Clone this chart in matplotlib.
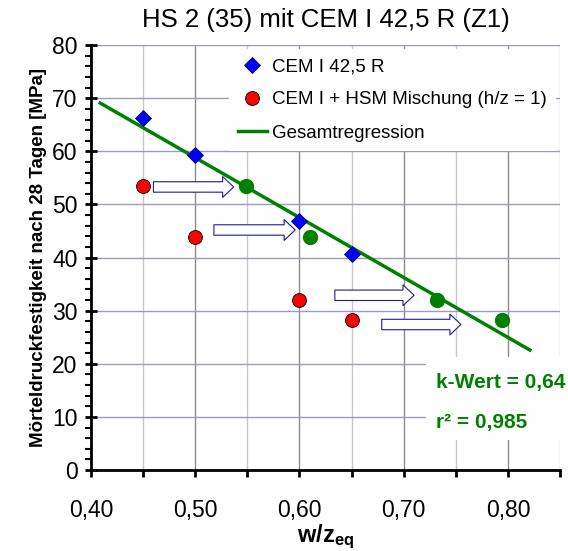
import matplotlib
matplotlib.use("Agg")
import matplotlib.pyplot as plt
from matplotlib.patches import FancyArrowPatch, Rectangle
from matplotlib.ticker import MultipleLocator, FuncFormatter

plt.rcParams['font.family'] = ['Liberation Sans', 'DejaVu Sans']
plt.rcParams['mathtext.fontset'] = 'custom'
plt.rcParams['mathtext.bf'] = 'Liberation Sans:bold'
plt.rcParams['mathtext.rm'] = 'Liberation Sans'

# data
wz_cem = [0.45, 0.50, 0.60, 0.65]
fc_cem = [66.3, 59.4, 46.9, 40.6]

wz_hsm = [0.45, 0.50, 0.60, 0.65]
fc_hsm = [53.5, 43.9, 32.1, 28.2]

wz_eq = [0.549, 0.610, 0.732, 0.794]
fc_eq = fc_hsm

reg_x = [0.409, 0.821]
reg_y = [69.1, 22.6]

# arrows: start x, end x, y
arr_x0 = [0.460, 0.518, 0.634, 0.679]
arr_x1 = [0.537, 0.596, 0.710, 0.755]
arr_y = [53.3, 45.2, 32.9, 27.4]

fig = plt.figure(figsize=(5.68, 5.51), dpi=100)
ax = fig.add_axes([0.160, 0.147, 0.826, 0.771])

ax.set_xlim(0.40, 0.85)
ax.set_ylim(0, 80)

# grid
for x in [0.45, 0.55, 0.65, 0.75, 0.85]:
    ax.axvline(x, color='#c8c8c8', lw=1.0, zorder=0)
for x in [0.50, 0.60, 0.70, 0.80]:
    ax.axvline(x, color='#8a8a8a', lw=1.0, zorder=0)
for y in range(10, 81, 10):
    ax.axhline(y, color='#9a9ac8', lw=1.0, zorder=0)

# regression + points
ax.plot(reg_x, reg_y, color='#008000', lw=2.5, zorder=3, label='Gesamtregression')
ax.plot(wz_cem, fc_cem, 'D', color='#0000ff', mec='#000080', mew=0.6, ms=8.5,
        ls='none', zorder=4, label='CEM I 42,5 R')
ax.plot(wz_hsm, fc_hsm, 'o', color='#ff0000', mec='#000000', mew=0.6, ms=10,
        ls='none', zorder=4, label='CEM I + HSM Mischung (h/z = 1)')
ax.plot(wz_eq, fc_eq, 'o', color='#008000', mec='#008000', ms=10,
        ls='none', zorder=4)

for x0, x1, y in zip(arr_x0, arr_x1, arr_y):
    a = FancyArrowPatch((x0, y), (x1, y),
                        arrowstyle='simple,head_width=15,tail_width=7.5,head_length=8',
                        mutation_scale=1, shrinkA=0, shrinkB=0,
                        fc='white', ec='#1a1aa0', lw=0.8, zorder=5)
    ax.add_patch(a)

# spines / ticks
for s in ['top', 'right']:
    ax.spines[s].set_visible(False)
ax.spines['left'].set_linewidth(2)
ax.spines['bottom'].set_linewidth(2)

ax.xaxis.set_major_locator(MultipleLocator(0.1))
ax.xaxis.set_minor_locator(MultipleLocator(0.05))
ax.yaxis.set_major_locator(MultipleLocator(10))
ax.yaxis.set_minor_locator(MultipleLocator(2))
ax.xaxis.set_major_formatter(FuncFormatter(lambda v, p: f'{v:.2f}'.replace('.', ',')))
ax.tick_params(axis='x', which='both', direction='out', length=5, width=2,
               labelsize=16.5, pad=16)
ax.tick_params(axis='y', which='major', direction='inout', length=9, width=2,
               labelsize=16.5, pad=5)
ax.tick_params(axis='y', which='minor', direction='out', length=4, width=1.5)

ax.set_ylabel('Mörteldruckfestigkeit nach 28 Tagen [MPa]', fontsize=13.5,
              fontweight='bold', labelpad=4)
ax.set_xlabel(r'$\mathbf{w/z_{eq}}$', fontsize=17, labelpad=0)
ax.set_title('HS 2 (35) mit CEM I 42,5 R (Z1)', fontsize=18.5, pad=13)

h, l = ax.get_legend_handles_labels()
order = [1, 2, 0]
leg = ax.legend([h[i] for i in order], [l[i] for i in order], loc='upper right',
                bbox_to_anchor=(1.0, 1.0), fontsize=13.5, frameon=True, fancybox=False,
                edgecolor='none', facecolor='white', framealpha=1,
                handlelength=1.5, handletextpad=0.3, labelspacing=0.85,
                borderaxespad=0.2, borderpad=0.5)

# text box for k-Wert
ax.add_patch(Rectangle((0.721, 5.6), 0.129, 15.7, fc='white', ec='none', zorder=6))
ax.text(0.731, 16.4, 'k-Wert = 0,64', color='#008000', fontsize=15,
        fontweight='bold', va='center', zorder=7)
ax.text(0.731, 8.9, 'r² = 0,985', color='#008000', fontsize=15,
        fontweight='bold', va='center', zorder=7)

fig.savefig('out.png', dpi=100)
